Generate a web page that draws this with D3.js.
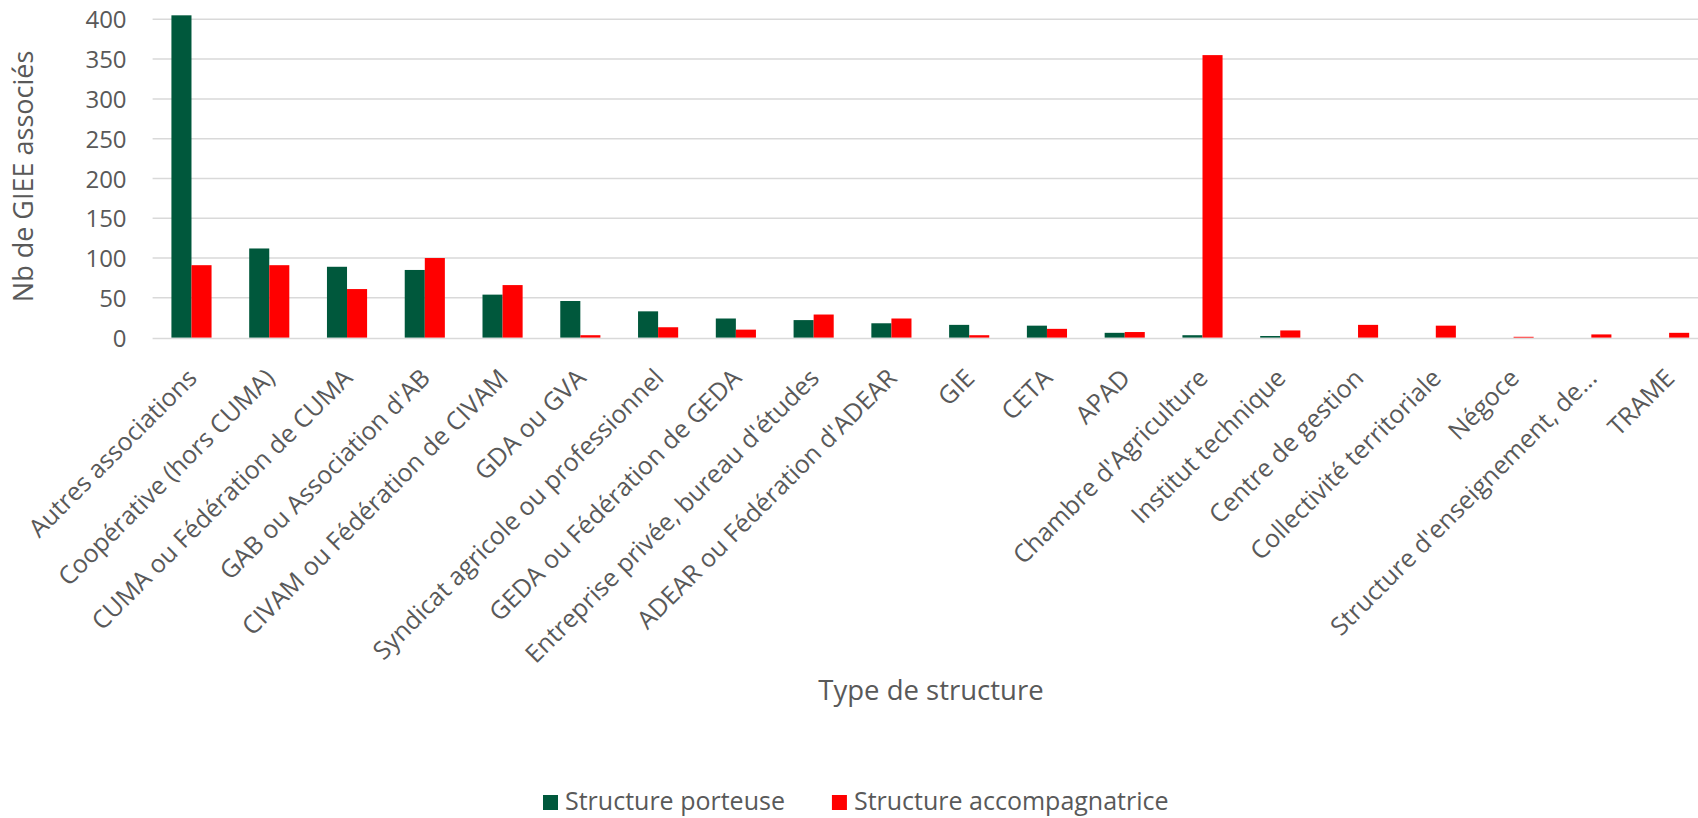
<!DOCTYPE html>
<html>
<head>
<meta charset="utf-8">
<script src="https://cdn.jsdelivr.net/npm/d3@7/dist/d3.min.js"></script>
<style>
  html, body { margin: 0; padding: 0; background: #ffffff; }
  svg { display: block; }
  text { font-family: "Open Sans", "Noto Sans", sans-serif; fill: #595959; }
</style>
</head>
<body>
<svg id="chart" width="1698" height="818"></svg>
<script>
// ---- data ----
const categories = [
  "Autres associations",
  "Coopérative (hors CUMA)",
  "CUMA ou Fédération de CUMA",
  "GAB ou Association d'AB",
  "CIVAM ou Fédération de CIVAM",
  "GDA ou GVA",
  "Syndicat agricole ou professionnel",
  "GEDA ou Fédération de GEDA",
  "Entreprise privée, bureau d'études",
  "ADEAR ou Fédération d'ADEAR",
  "GIE",
  "CETA",
  "APAD",
  "Chambre d'Agriculture",
  "Institut technique",
  "Centre de gestion",
  "Collectivité territoriale",
  "Négoce",
  "Structure d'enseignement, de...",
  "TRAME"
];
const seriesNames = ["Structure porteuse", "Structure accompagnatrice"];
const porteuse =        [405, 112, 89, 85, 54, 46, 33, 24, 22, 18, 16, 15, 6, 3, 2, 0, 0, 0, 0, 0];
const accompagnatrice = [91, 91, 61, 100, 66, 3, 13, 10, 29, 24, 3, 11, 7, 355, 9, 16, 15, 1, 4, 6];
const yTicks = [0, 50, 100, 150, 200, 250, 300, 350, 400];
const colors = ["#00583c", "#ff0000"];
const yTitle = "Nb de GIEE associés";
const xTitle = "Type de structure";

// ---- layout ----
const svg = d3.select("#chart");
const plot = { left: 152.6, right: 1708, top: 19.3, bottom: 337.6 };

const x0 = d3.scaleBand().domain(categories).range([plot.left, plot.right]).padding(0);
const barW = x0.bandwidth() * 0.258;
const x1 = d3.scaleBand().domain(seriesNames).range([0, barW * 2]).padding(0);
const y = d3.scaleLinear().domain([0, 400]).range([plot.bottom, plot.top]);

// gridlines (baseline drawn slightly below the bar bottoms, as in the reference)
svg.append("g")
  .selectAll("line")
  .data(yTicks)
  .join("line")
  .attr("x1", plot.left).attr("x2", plot.right)
  .attr("y1", d => d === 0 ? y(d) + 1 : y(d))
  .attr("y2", d => d === 0 ? y(d) + 1 : y(d))
  .attr("stroke", "#d9d9d9")
  .attr("stroke-width", 1.5);

// y axis tick labels via d3 axis
const yAxis = d3.axisLeft(y).tickValues(yTicks).tickSize(0).tickPadding(0);
const gy = svg.append("g").attr("transform", `translate(${plot.left - 26},0)`).call(yAxis);
gy.select(".domain").remove();
gy.selectAll("text")
  .attr("fill", "#595959")
  .style("font-family", '"Open Sans", sans-serif')
  .style("font-size", "24px")
  .attr("dy", "0.36em");

// bars
const rows = categories.map((c, i) => ({ cat: c, vals: [porteuse[i], accompagnatrice[i]] }));
const offset = (x0.bandwidth() - barW * 2) / 2;
const groups = svg.append("g")
  .selectAll("g")
  .data(rows)
  .join("g")
  .attr("transform", d => `translate(${x0(d.cat) + offset},0)`);
groups.selectAll("rect")
  .data(d => d.vals.map((v, k) => ({ key: seriesNames[k], v, k })))
  .join("rect")
  .attr("x", d => x1(d.key))
  .attr("width", x1.bandwidth())
  .attr("y", d => y(d.v))
  .attr("height", d => Math.max(0, y(0) - y(d.v)))
  .attr("fill", d => colors[d.k]);

// category labels via d3 axis
const xAxis = d3.axisBottom(x0).tickSize(0).tickPadding(0);
const gx = svg.append("g").attr("transform", `translate(0,${plot.bottom + 1})`).call(xAxis);
gx.select(".domain").remove();
gx.selectAll(".tick text")
  .attr("fill", "#595959")
  .style("font-family", '"Open Sans", sans-serif')
  .style("font-size", "25px")
  .attr("text-anchor", "end")
  .attr("dy", null)
  .attr("y", null)
  .attr("transform", "translate(7,41) rotate(-45)");

// axis titles
svg.append("text")
  .attr("transform", `translate(33,${(plot.top + plot.bottom) / 2 - 2}) rotate(-90)`)
  .attr("text-anchor", "middle")
  .style("font-size", "27px")
  .text(yTitle);

svg.append("text")
  .attr("x", 931).attr("y", 700)
  .attr("text-anchor", "middle")
  .style("font-size", "27.5px")
  .text(xTitle);

// legend
const legend = svg.append("g");
let lx = 543;
seriesNames.forEach((name, k) => {
  const item = legend.append("g").attr("transform", `translate(${lx},0)`);
  item.append("rect").attr("x", 0).attr("y", 795).attr("width", 15).attr("height", 15).attr("fill", colors[k]);
  const t = item.append("text").attr("x", 22).attr("y", 810).style("font-size", "25px").text(name);
  lx += 22 + t.node().getComputedTextLength() + 47;
});
</script>
</body>
</html>
